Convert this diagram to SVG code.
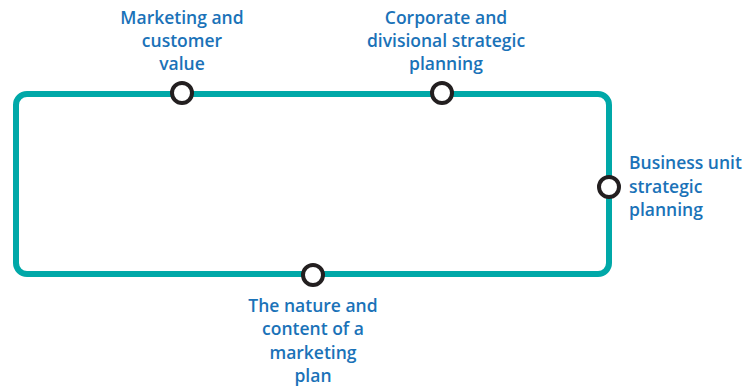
<svg xmlns="http://www.w3.org/2000/svg" width="749" height="388" viewBox="0 0 749 388">
<style>
.lbl{font-family:"Open Sans","Liberation Sans",Arial,sans-serif;font-size:17.5px;font-weight:600;fill:#1a72b8}
.node{fill:#fff;stroke:#231f20;stroke-width:4}
.track{fill:none;stroke:#00a8a8;stroke-width:6}
</style>
<rect width="749" height="388" fill="#fff"/>
<g id="connectors">
<rect class="track" x="16" y="94" width="593" height="180" rx="11" ry="11"/>
</g>
<g id="n1">
<circle class="node" cx="182" cy="93" r="10"/>
<text class="lbl" text-anchor="middle"><tspan x="182" y="24">Marketing and</tspan><tspan x="182" y="47">customer</tspan><tspan x="182" y="70">value</tspan></text>
</g>
<g id="n2">
<circle class="node" cx="442" cy="93" r="10"/>
<text class="lbl" text-anchor="middle"><tspan x="446" y="24">Corporate and</tspan><tspan x="446" y="47">divisional strategic</tspan><tspan x="446" y="70">planning</tspan></text>
</g>
<g id="n3">
<circle class="node" cx="609" cy="187" r="10"/>
<text class="lbl"><tspan x="629" y="169">Business unit</tspan><tspan x="629" y="193">strategic</tspan><tspan x="629" y="216">planning</tspan></text>
</g>
<g id="n4">
<circle class="node" cx="313" cy="275" r="10"/>
<text class="lbl" text-anchor="middle"><tspan x="313" y="312">The nature and</tspan><tspan x="313" y="335">content of a</tspan><tspan x="313" y="359">marketing</tspan><tspan x="313" y="382">plan</tspan></text>
</g>
</svg>
